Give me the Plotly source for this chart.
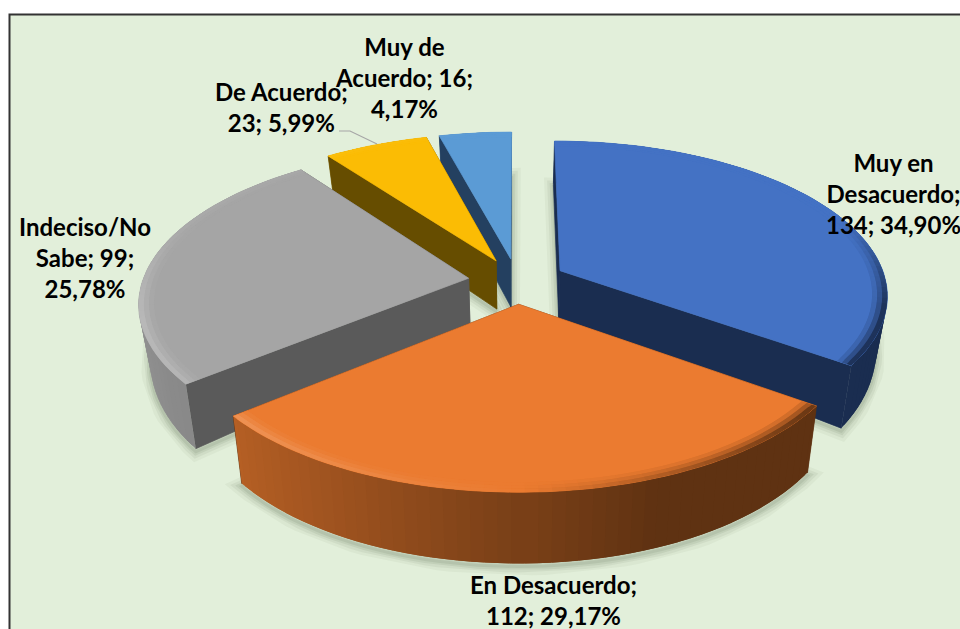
import numpy as np
import plotly.graph_objects as go

# Chart data
categories = ['Muy en Desacuerdo', 'En Desacuerdo', 'Indeciso/No Sabe', 'De Acuerdo', 'Muy de Acuerdo']
counts = [134, 112, 99, 23, 16]
label_lines = [
    ['Muy en', 'Desacuerdo;', '{n}; {p}'],
    ['En Desacuerdo;', '{n}; {p}'],
    ['Indeciso/No', 'Sabe; {n};', '{p}'],
    ['De Acuerdo;', '{n}; {p}'],
    ['Muy de', 'Acuerdo; {n};', '{p}'],
]
label_x = [893, 553, 85, 281, 404]
label_y = [193, 600, 257, 107, 77]

top_colors = ['#4472C4', '#EB7B30', '#A5A5A5', '#FBBC04', '#5B9BD5']
wall_colors = ['#1A2D50', '#5F3212', '#5A5A5A', '#664D00', '#244060']

# Pie projection settings (Excel style 3D pie with perspective)
CX, CY = 517, 281
SX, SY = 326, 152
PERSP = 0.15
EXPLODE = 0.15
BOTTOM_SHRINK = 0.97


def project(x, y):
    g = 1 / (1 - PERSP * y)
    return CX + SX * x * g, CY + SY * y * g


def depth(y):
    return np.where(y > 0, 49 + 32 * y - 11 * y ** 2, 49 + 6 * y)


def hex_rgb(c):
    return np.array([int(c[i:i + 2], 16) for i in (1, 3, 5)], dtype=float)


def mix(c1, c2, t):
    r = hex_rgb(c1) * (1 - t) + hex_rgb(c2) * t
    return 'rgb(%d,%d,%d)' % tuple(r)


fig = go.Figure()


def add_poly(xs, ys, color, width=0.7):
    fig.add_trace(go.Scatter(
        x=list(xs), y=list(ys), mode='lines', fill='toself', fillcolor=color,
        line=dict(color=color, width=width), hoverinfo='skip', showlegend=False,
    ))


def slice_point(a, r, off):
    # a is clockwise from the top of the pie, y grows towards the viewer
    return r * np.sin(a) + off[0], -r * np.cos(a) + off[1]


def bottom_xy(x, y):
    sx, sy = project(x, y)
    return CX + (sx - CX) * BOTTOM_SHRINK, sy + depth(y)


shares = np.array(counts) / sum(counts)
edges = np.concatenate([[0], np.cumsum(shares)]) * 2 * np.pi
STEP = np.radians(2)

slices = []
for i in range(len(counts)):
    a0, a1 = edges[i], edges[i + 1]
    mid = (a0 + a1) / 2
    off = (EXPLODE * np.sin(mid), -EXPLODE * np.cos(mid))
    n = max(3, int((a1 - a0) / STEP))
    slices.append(dict(i=i, a0=a0, a1=a1, off=off, arc=np.linspace(a0, a1, n + 1)))

# Soft shadow below every slice
for s in slices:
    x, y = slice_point(s['arc'], 1.0, s['off'])
    px = np.concatenate([[s['off'][0]], x, [s['off'][0]]])
    py = np.concatenate([[s['off'][1]], y, [s['off'][1]]])
    bx, by = bottom_xy(px, py)
    for w, alpha in [(18, 0.05), (12, 0.07), (7, 0.09), (3, 0.1)]:
        fig.add_trace(go.Scatter(
            x=bx, y=by + 3, mode='lines', line=dict(color='rgba(70,90,60,%.2f)' % alpha, width=w),
            hoverinfo='skip', showlegend=False,
        ))

# Painter's order, back slices first
for i in [4, 3, 2, 0, 1]:
    s = slices[i]
    off, arc = s['off'], s['arc']
    top, wall = top_colors[i], wall_colors[i]
    faces = []

    # Flat cut faces
    for a in (s['a0'], s['a1']):
        x, y = slice_point(a, 1.0, off)
        tx = np.array([off[0], x])
        ty = np.array([off[1], y])
        faces.append((ty.mean(), tx, ty, wall, 0.7))

    # Curved outside wall, shaded from left to right; pieces overlap to hide seams
    for a, b in zip(arc[:-1], arc[1:]):
        lo, hi = max(a - STEP / 2, s['a0']), min(b + STEP / 2, s['a1'])
        x, y = slice_point(np.linspace(lo, hi, 4), 1.0, off)
        t = float(np.clip(0.25 + (np.sin((a + b) / 2) + 1) * 0.75 / 1.35, 0, 1))
        faces.append((y.mean(), x, y, mix(top, wall, t), 0))

    for _, fx, fy, color, lw in sorted(faces, key=lambda f: f[0]):
        x0, y0 = project(fx, fy)
        x1, y1 = bottom_xy(fx, fy)
        add_poly(np.concatenate([x0, x1[::-1], x0[:1]]), np.concatenate([y0, y1[::-1], y0[:1]]), color, lw)

    # Top face
    x, y = slice_point(arc, 1.0, off)
    px, py = project(np.concatenate([[off[0]], x, [off[0]]]), np.concatenate([[off[1]], y, [off[1]]]))
    add_poly(px, py, top)

    # Bevel along the rim, only on the side that faces the viewer
    for r0, r1, strength in [(0.955, 0.97, 0.2), (0.97, 0.985, 0.55), (0.985, 1.0, 1.0)]:
        for a, b in zip(arc[:-1], arc[1:]):
            m = (a + b) / 2
            sn = np.sin(m)
            front = float(np.clip((-np.cos(m) + 0.35) / 0.6, 0, 1))
            if sn < 0:
                color = mix(top, '#FFFFFF', (0.06 + 0.16 * front) * -sn * strength)
            else:
                color = mix(top, wall, min(1.0, sn * 1.3) * 0.9 * strength * front)
            lo, hi = max(a - STEP / 2, s['a0']), min(b + STEP / 2, s['a1'])
            xa, ya = slice_point(np.array([lo, hi]), r1, off)
            xb, yb = slice_point(np.array([hi, lo]), r0, off)
            qx, qy = project(np.concatenate([xa, xb]), np.concatenate([ya, yb]))
            add_poly(np.append(qx, qx[0]), np.append(qy, qy[0]), color, 0)

# Data labels
annotations = []
for i, lines in enumerate(label_lines):
    pct = f'{shares[i] * 100:.2f}%'.replace('.', ',')
    text = '<br>'.join(line.format(n=counts[i], p=pct) for line in lines)
    annotations.append(dict(
        x=label_x[i], y=label_y[i], xref='x', yref='y', text=text, showarrow=False,
        xanchor='center', yanchor='middle', align='center',
        font=dict(family='Lato', size=24, color='#000000', weight='bold'),
    ))

fig.update_layout(
    width=960, height=629,
    margin=dict(l=0, r=0, t=0, b=0),
    paper_bgcolor='#FFFFFF', plot_bgcolor='#FFFFFF',
    showlegend=False,
    annotations=annotations,
    xaxis=dict(range=[0, 960], visible=False, fixedrange=True),
    yaxis=dict(range=[629, 0], visible=False, fixedrange=True),
    shapes=[
        # chart area and its border
        dict(type='rect', x0=9.5, x1=964, y0=14.5, y1=640, xref='x', yref='y', layer='below',
             fillcolor='#E2EFDA', line=dict(color='#333333', width=2)),
        # leader line of the De Acuerdo label
        dict(type='path', path='M 339 131 L 350 131 L 377 144', xref='x', yref='y',
             line=dict(color='#A6A6A6', width=1.2)),
    ],
)

# the page margin would push the 960 wide figure out of the window
fig.write_html("out.html", config=dict(displayModeBar=False),
               post_script="document.body.style.margin='0';document.body.style.overflow='hidden';")
